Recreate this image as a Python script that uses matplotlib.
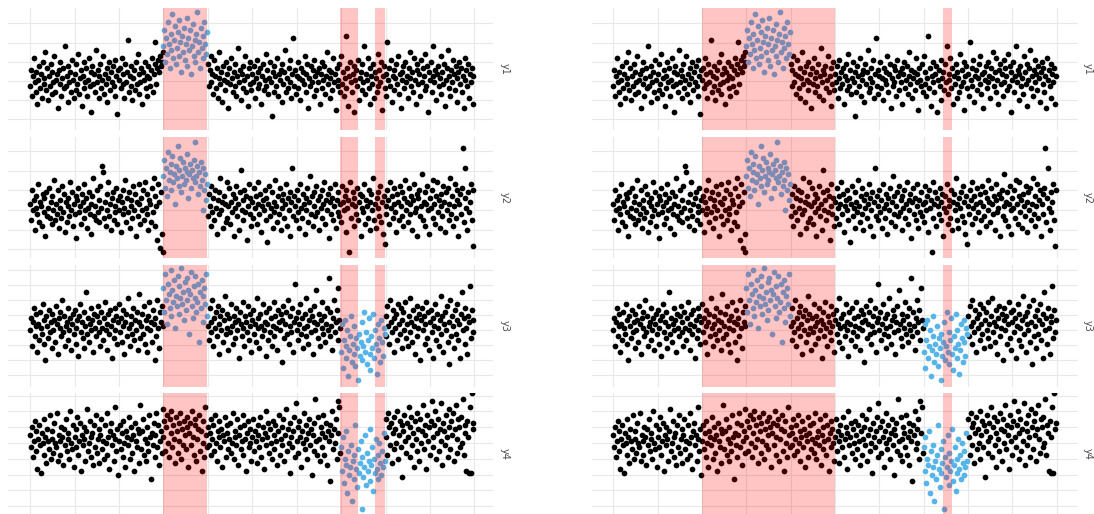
import numpy as np
import matplotlib.pyplot as plt

# series values (one point per time step, 0..499)
y1 = [-3, 5, -8, 2, 11, -1, -6, 4, -12, 0, 7, -4, 3, -9, 9, -2, 1, 14, -5, 6, -10, 2, -3, 8, -7,
      4, -1, 12, -6, 0, 3, -14, 5, -2, 9, -8, 1, 6, -4, 17, -3, 2, -11, 7, -1, 4, -6, 10, 0, -9,
      3, -5, 8, -2, 13, -7, 1, 5, -13, 2, -4, 9, -1, 6, -8, 0, 11, -3, 4, -16, 7, -2, 3, -6, 15,
      -1, 5, -9, 2, 8, -4, 0, 12, -7, 3, -2, 6, -11, 1, 9, -5, 4, -1, 7, -3, 10, -8, 2, -17, 5,
      0, 6, -4, 11, -2, 3, -9, 8, -1, 4, 20, -6, 2, -3, 7, -10, 1, 5, -5, 9, -2, 13, -7, 3, -1,
      6, -12, 4, 0, 9, -4, 2, -8, 7, 1, -3, 5, 11, -6, 3, 8, 19, -2, 6, 10, 4, 12, 7, 9, 14,
      17, 25, 9, 21, 13, 29, 18, 6, 23, 15, 33, 11, 20, 27, 8, 16, 24, 12, 30, 19, 4, 22, 14, 26, 10,
      18, 31, 7, 21, 15, 25, 3, 17, 28, 12, 20, 9, 23, 34, 14, 19, 6, 26, 16, 22, 11, 29, 18, 13, 24,
      8, -3, 5, 12, -1, 3, -7, 10, 2, -4, 6, -9, 1, 14, -2, 4, -11, 7, 0, -5, 9, -1, 3, -14, 6,
      -2, 11, 1, -6, 4, -3, 8, -8, 2, 16, -1, 5, -10, 3, 7, -4, 0, 12, -6, 2, -13, 6, -2, 9, -5,
      3, -1, 7, -9, 1, 10, -4, 4, -2, 6, -12, 2, 8, -5, 0, 13, -3, 5, -7, 1, 9, -1, -18, 4, -6,
      7, 2, -3, 11, -8, 3, 0, 5, -11, 8, -2, 4, 15, -6, 1, -4, 6, -1, 10, -9, 3, 21, -3, 5, -7,
      2, 9, -4, 1, -10, 6, 0, 4, -2, 12, -6, 3, 8, -14, 1, -3, 7, -1, 5, -8, 10, 2, -5, 4, -1,
      6, -12, 3, 9, -4, 0, 7, -7, 2, 14, -2, 5, -9, 1, 4, -5, 11, -1, 3, -15, 6, 0, -3, 8, -6,
      12, -2, 4, -8, 1, 22, -4, 6, -13, 2, 9, -1, -6, 3, 7, -16, 0, 5, -3, 10, -10, 1, 4, -5, 8,
      -1, 17, -7, 3, 0, 11, -4, 6, -12, 2, -2, 8, -9, 4, 1, -6, 13, -3, 5, -1, 9, -15, 2, 7, -4,
      3, -8, 19, 0, 6, -3, 10, -11, 2, 5, -5, 1, 8, -2, 12, -7, 3, -14, 4, 0, 7, -4, 9, -1, 2,
      -9, 6, 1, 14, -3, 4, -6, 11, 0, -12, 5, 8, -2, 3, -8, 10, -1, 6, 2, -5, 13, -3, 7, -16, 4,
      0, 9, -6, 2, 17, -1, 5, -10, 3, 7, -3, 1, -7, 12, 4, -2, 8, -13, 0, 6, 15, -4, 2, -8, 5,
      -1, 10, 3, -5, 7, 1, -11, 4, 9, -2, 6, -6, 2, -14, 11, 0, 5, -3, 8, -9, 3, -1, 6, -12, 2]

y2 = [2, -6, 9, -1, 4, -11, 6, 0, -3, 12, -7, 3, 1, -9, 7, -2, 5, -14, 8, -4, 0, 10, -5, 3, -8,
      6, -1, 14, -6, 2, -3, 9, -10, 4, 0, -5, 11, -2, 7, -12, 3, -7, 5, 1, -4, 13, -1, 8, -9, 2,
      -3, 6, -15, 4, 10, -2, 1, -8, 7, 3, -5, 12, -1, 5, -10, 0, 8, -3, 2, -13, 6, 15, -4, 1, -6,
      9, -2, 4, -7, 11, 0, 21, 18, -5, 3, -9, 7, -1, 13, -4, 2, -11, 5, 8, -6, 1, -2, 10, -8, 4,
      -1, 6, -12, 3, 9, -3, 0, 14, -7, 5, -2, 8, -10, 1, 4, -5, 11, -1, 7, -14, 3, -4, 12, 2, -8,
      5, -1, 9, -6, 13, 0, -3, 7, -11, 4, 2, -7, 10, -2, 15, -9, 6, 1, -16, 12, 3, -20, 8, -13, -22,
      16, 24, 10, 20, 6, 28, 14, 18, 22, 9, 26, 13, 17, 2, 21, 15, 31, 11, 19, 25, 8, 16, 23, 12, 20,
      14, 18, 27, 5, 17, 22, 10, 19, 15, 24, 33, 13, 16, 21, 7, 18, 11, 23, 14, -1, 20, 9, 17, 4, 12,
      -4, 7, 1, -9, 11, -2, 5, -6, 9, 0, -13, 4, 8, -3, 15, -1, 3, -10, 6, 2, -7, 13, -5, 1, 10,
      -8, 3, -2, 7, -14, 5, 0, 11, -4, 2, -11, 8, 19, -1, 4, -6, 9, -2, 6, -16, 1, 12, -3, 5, -9,
      3, -5, 10, 0, 6, -8, 2, 13, -3, 7, -12, 1, 4, -1, 9, -6, 5, -17, 2, 11, -4, 0, 8, -10, 3,
      -2, 14, 1, -7, 6, -3, 10, -11, 4, 0, 7, -5, 2, 12, -9, 5, -1, 8, -14, 3, 20, -4, 6, 1, -6,
      9, -2, 4, -10, 12, 0, -5, 7, 2, -13, 5, -1, 10, -7, 3, 16, -3, 6, -9, 1, 8, -4, 11, -2, 4,
      -11, 6, 0, 9, -5, 2, 13, -8, 4, -1, 7, -15, 3, 10, -3, 5, -6, 1, 12, -10, 4, -2, 8, -4, 2,
      -7, 11, 3, -1, 6, -12, 9, 0, 4, -22, 13, -5, 2, 8, -9, 5, 1, -3, 10, -6, 3, 7, -14, 0, 6,
      -2, 12, -8, 4, 1, -5, 9, -11, 3, 7, -1, 15, -6, 2, -10, 5, 0, 8, -4, 11, -7, 3, -13, 6, -18,
      1, -3, 9, 4, -8, 13, 0, 6, -5, 2, 10, -2, -12, 7, 3, -6, 11, 1, -4, 8, -9, 5, 14, -1, 3,
      -7, 10, 2, -3, 6, -11, 4, 12, -2, 0, 7, -14, 5, 9, -4, 1, 17, -6, 3, 8, -9, 2, 11, -1, -13,
      5, 0, 9, -5, 14, 2, -8, 6, 13, -2, 4, -10, 7, 1, -4, 11, 3, -12, 8, -1, 10, -6, 2, 15, -3,
      6, -9, 1, 12, -5, 4, 9, -14, 2, 7, -3, 10, 30, -7, 5, 20, 0, -11, 8, -2, 3, 12, -6, -19, 9]

y3 = [-1, 5, -9, 3, 10, -4, 1, 7, -12, 2, -6, 8, 0, -3, 12, -8, 4, -16, 6, 1, -5, 9, -2, 3, -10,
      7, -1, 4, -7, 11, 2, -13, 5, 0, 8, -4, 14, -2, 6, -9, 1, 3, -6, 10, -1, 5, -11, 2, 7, -3,
      9, -8, 0, 4, -14, 6, 12, -2, 3, -5, 8, -10, 1, 18, -3, 5, -7, 2, 10, -1, 4, -12, 7, 0, -4,
      6, 11, -2, 3, -9, 8, 0, -6, 5, 13, -1, 2, -11, 7, -3, 9, 1, -15, 4, -5, 10, -1, 6, -8, 3,
      12, -2, 5, -7, 1, 9, -13, 3, 7, -4, 15, 0, -9, 6, 2, -3, 10, -6, 4, -1, 8, -11, 3, 17, -5,
      1, 7, -3, 11, -8, 4, 0, -12, 6, 13, -1, 3, -7, 9, 2, -16, 5, -4, 14, 0, -10, 8, 3, 11, 1,
      20, 8, 27, 14, 2, 22, 17, 10, 29, 6, 19, 13, 24, 0, 16, 11, 26, 21, 7, 15, 30, 12, 18, 4, 23,
      9, 25, 14, 19, -3, 17, 28, 11, 5, 21, 15, 26, 8, 13, 22, -7, 18, 10, 24, 3, 16, 20, 12, 27, 6,
      1, -6, 10, 3, -2, 14, -9, 5, 0, 8, -4, 11, 2, -13, 6, -1, 9, -7, 4, 16, -3, 7, 0, -11, 5,
      -2, 12, 1, -8, 6, 3, -5, 10, -1, 4, -15, 8, 2, -4, 13, 0, -9, 6, 3, -2, 11, -6, 1, 7, -12,
      4, 9, -3, 2, -7, 15, 0, 5, -10, 7, 1, -4, 12, -1, 3, -14, 8, 2, -6, 10, -2, 5, -9, 1, 13,
      -4, 6, 0, -11, 9, 3, -1, 7, -17, 4, 11, -5, 2, 8, -3, 14, -8, 1, 6, -2, 10, -12, 3, 22, 5,
      -1, 8, -6, 2, 12, -3, 5, -10, 0, 7, -4, 15, 1, -8, 4, 9, -2, 6, -13, 3, 11, -1, 19, 2, -5,
      7, -9, 4, 0, 13, -3, 6, -7, 2, 10, -1, 25, -4, 8, 1, -11, 5, 14, -2, 3, 9, -6, 20, 4, 0,
      -12, 2, -20, -6, 4, -15, -9, -1, -24, -11, -4, 6, -17, -8, -13, 1, -19, -5, -10, -26, -3, -14, -7, 3, -16,
      -9, 8, -12, -2, -18, -6, 5, -13, -21, -4, -10, 7, -15, -1, -8, -23, -11, 2, -5, -17, 4, -7, -14, 0, -3,
      6, -4, 11, 1, -8, 14, 3, -2, 9, -12, 5, 0, 7, -6, 12, 2, -3, 10, -10, 4, 8, -1, 13, -5, 2,
      -9, 6, 15, -2, 3, -7, 9, 1, -13, 5, 11, -4, 0, 7, -16, 4, 10, -1, 6, -8, 2, 13, -5, 8, -11,
      3, 9, -2, 5, -15, 1, 12, -6, 7, 0, -9, 4, 16, -3, 6, -12, 2, 8, -1, 11, -7, 3, -18, 14, -4,
      6, 1, -10, 9, -3, 4, 12, -6, 2, -15, 7, 18, -1, 5, -8, 10, 0, -13, 6, 3, 21, -5, 9, -2, 4]

y4 = [4, -2, 8, -7, 1, 11, -4, 6, -13, 2, 9, -1, -15, 5, 0, 12, -6, 3, -10, 7, 1, -3, 14, -8, 2,
      6, -5, 10, 0, -2, 15, -9, 4, 1, -6, 8, 3, -11, 7, -1, 12, -4, 2, 5, -8, 16, 0, -3, 9, -12,
      3, 7, -2, 13, -6, 1, 10, -14, 4, -1, 8, 2, -9, 6, 17, -4, 0, 11, -7, 3, 5, -11, 9, -2, 14,
      -5, 2, 7, -10, 4, 12, -3, 1, -8, 9, 0, 15, -6, 3, -13, 6, 10, -1, 4, -9, 18, 2, -4, 7, -16,
      1, 9, -3, 5, -7, 11, 0, -12, 6, 3, -1, 13, -8, 2, 8, -5, 4, -14, 10, 1, -2, 7, -10, 5, 19,
      -3, 6, 12, -6, 2, -9, 8, 0, -4, 14, 3, -18, 5, -1, 10, -7, 4, 15, -2, 9, -11, 1, 6, -5, 17,
      3, 11, -4, 8, 14, 0, -7, 12, 5, 16, -2, 9, 2, -10, 13, 6, -5, 10, 1, 15, -8, 7, -1, 11, 4,
      -3, 13, 8, -12, 5, 10, -1, 16, 3, -6, 9, 12, -9, 2, 7, 14, -4, 6, -14, 11, 0, -7, 18, 4, -2,
      8, -1, 5, 12, -6, 2, 9, -4, 14, 0, -9, 6, 3, 11, -2, 7, -12, 4, 1, 13, -7, 5, 9, -3, 2,
      10, -5, 0, 15, -8, 3, 6, -1, 12, -11, 4, 8, -3, 1, 14, -6, 9, 2, -14, 5, 11, -2, 7, 0, -9,
      3, 12, -4, 6, 1, -10, 9, 4, -2, 13, -7, 2, 8, -13, 5, 16, -1, 3, 10, -5, 7, 0, -8, 11, 4,
      -3, 9, 1, -11, 6, 14, -6, 2, 8, -1, 12, -9, 4, 17, -4, 7, 0, -15, 10, 3, -2, 6, 13, -7, 20,
      1, 8, -5, 11, 3, -12, 6, 0, 15, -3, 9, 2, -8, 5, 12, -1, 7, -16, 4, 10, -4, 22, 1, -6, 13,
      2, -9, 8, 5, -2, 14, -6, 3, 10, -11, 6, 1, -19, 9, 4, 16, -3, 7, 0, 12, -8, 21, 5, 18, -5,
      -2, -14, 3, -20, -8, -11, 6, -25, -4, -16, -12, -1, -29, -9, -18, -6, 9, -13, -22, -3, -15, -10, 1, -33, -7,
      -17, -12, 4, -21, -5, -14, -9, 7, -19, -11, -2, -24, -8, -15, 2, -13, -6, -18, 0, -10, -16, -4, -12, 5, -9,
      12, 3, -6, 15, 8, -1, 10, -10, 5, 13, -3, 7, 0, 16, -8, 4, 11, -2, 9, -17, 6, 14, 1, -5, 10,
      3, 18, -7, 8, 13, -1, 5, -12, 11, 2, -4, 15, 7, -9, 12, 0, 6, 19, -3, 9, 4, -13, 14, 1, 8,
      -6, 11, 21, 3, -2, 9, 16, -8, 5, 12, -4, 7, 1, 20, -11, 10, 6, -1, 14, 3, -7, 17, 8, -3, 11,
      4, 15, -9, 7, 19, 2, -5, 12, 8, -2, 13, 0, 22, -6, 9, 5, -14, 11, 3, -15, 18, -15, 25, 7, 10]

series = [y1, y2, y3, y4]
labels = ['y1', 'y2', 'y3', 'y4']
# true anomaly windows per series (start, end)
anomalies = [[(150, 200)], [(150, 200)], [(150, 200), (350, 400)], [(350, 400)]]
# detected windows, left and right chart
bands_left = [(150, 199), (349, 369), (388, 399)]
bands_right = [(100, 250), (372, 382)]

# per-row layout: (top px, bottom px, y-limits, gridline start, gridline step)
rows = [(8, 130, (-25, 36), -0.5, 9.6),
        (137, 258, (-25, 35.5), -1, 9.8),
        (265, 387, (-29.5, 31.5), -1, 7.5),
        (393, 515, (-36, 25), 0, 7.9)]

W, H = 1094, 514
fig = plt.figure(figsize=(W / 100, H / 100), dpi=100)

x = np.arange(500)
for left_px, right_px, xlim, bands, strip_px in [(8, 493, (-25, 521), bands_left, 505),
                                                 (592, 1078, (-24, 524), bands_right, 1088)]:
    for i, (top, bot, ylim, g0, gstep) in enumerate(rows):
        ax = fig.add_axes([left_px / W, 1 - bot / H, (right_px - left_px) / W, (bot - top) / H])
        y = np.array(series[i])
        anom = np.zeros(len(y), dtype=bool)
        for a, b in anomalies[i]:
            anom |= (x >= a) & (x < b)
        ax.scatter(x[~anom], y[~anom], s=17, color='black', lw=0, zorder=2)
        ax.scatter(x[anom], y[anom], s=17, color='#56B4E9', lw=0, zorder=2)
        for a, b in bands:
            ax.axvspan(a, b, color='red', alpha=0.23, lw=0, zorder=3)
        ax.set_xlim(*xlim)
        ax.set_ylim(*ylim)
        gy = g0 + gstep * np.arange(-6, 7)
        gy = gy[(gy > ylim[0]) & (gy < ylim[1])]
        ax.set_yticks(gy)
        ax.set_xticks(np.arange(0, 501, 50))
        ax.grid(True, color='#e8e8e8', lw=0.8, zorder=0)
        ax.set_axisbelow(True)
        ax.tick_params(length=0, labelbottom=False, labelleft=False)
        for s in ax.spines.values():
            s.set_visible(False)
        fig.text(strip_px / W, 1 - (top + bot) / 2 / H, labels[i], rotation=-90,
                 ha='center', va='center', fontsize=7, color='#4d4d4d')

plt.savefig('out.png', dpi=100)
